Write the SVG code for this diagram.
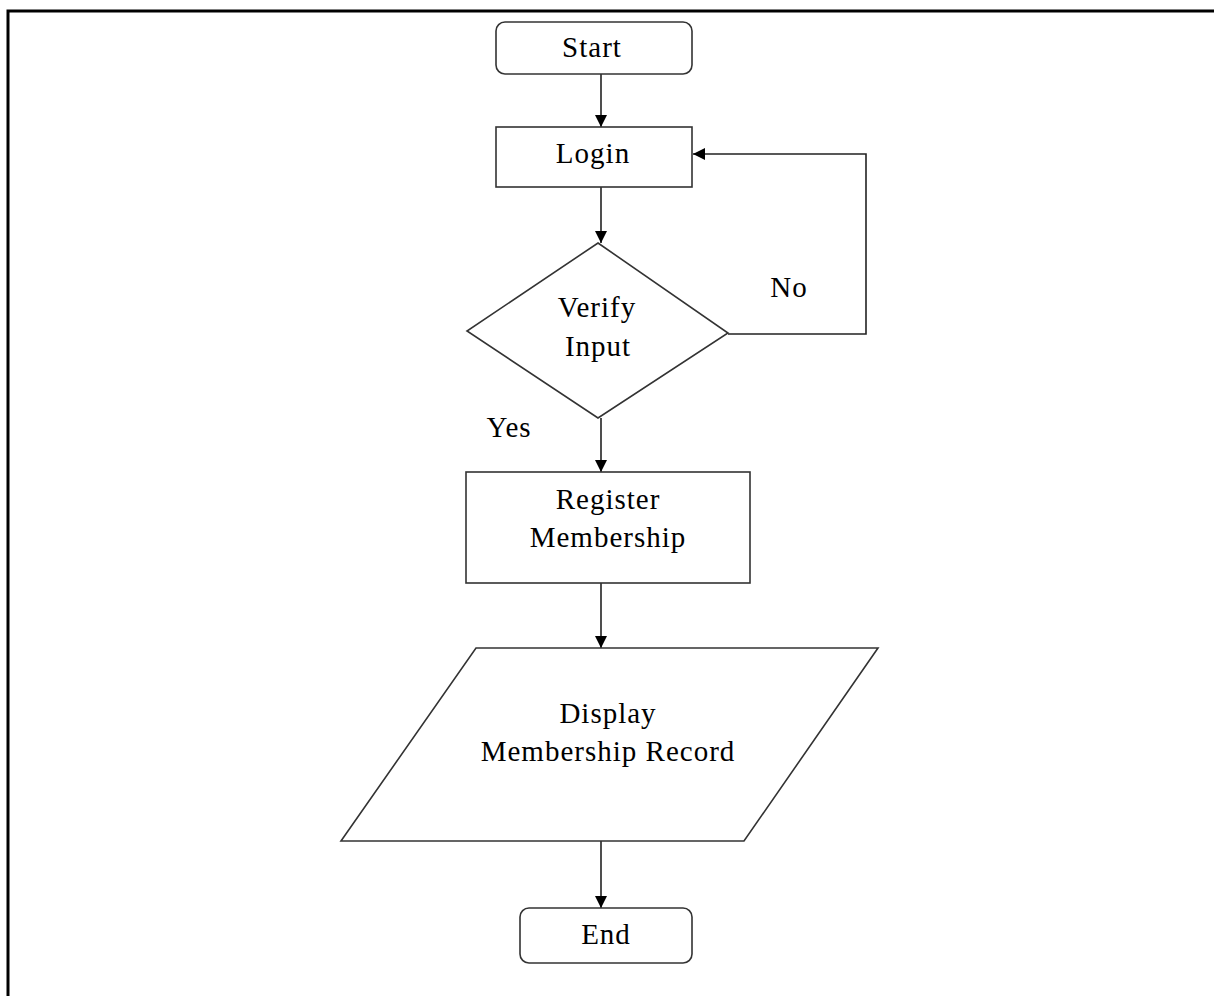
<svg xmlns="http://www.w3.org/2000/svg" width="1214" height="996" viewBox="0 0 1214 996">
<style>
.sh{fill:#fff;stroke:#333;stroke-width:1.6}
.ln{fill:none;stroke:#222;stroke-width:1.6}
.t{font-family:"Liberation Serif","Times New Roman",serif;font-size:29px;fill:#000;text-anchor:middle;letter-spacing:1px}
</style>
<defs>
<marker id="ah" markerWidth="12" markerHeight="12" viewBox="0 0 12 12" refX="12" refY="6" orient="auto" markerUnits="userSpaceOnUse">
<path d="M0,0 L12,6 L0,12 Z" fill="#000"/>
</marker>
</defs>
<rect x="0" y="0" width="1214" height="996" fill="#fff"/>
<path d="M8,996 V11 H1214" fill="none" stroke="#000" stroke-width="3"/>
<g id="connectors">
<line class="ln" x1="601" y1="74" x2="601" y2="127" marker-end="url(#ah)"/>
<line class="ln" x1="601" y1="187" x2="601" y2="243" marker-end="url(#ah)"/>
<polyline class="ln" points="728,334 866,334 866,154 693,154" marker-end="url(#ah)"/>
<line class="ln" x1="601" y1="418" x2="601" y2="472" marker-end="url(#ah)"/>
<line class="ln" x1="601" y1="583" x2="601" y2="648" marker-end="url(#ah)"/>
<line class="ln" x1="601" y1="841" x2="601" y2="908" marker-end="url(#ah)"/>
<text class="t" x="789" y="297">No</text>
<text class="t" x="509" y="437">Yes</text>
</g>
<g id="start">
<rect class="sh" x="496" y="22" width="196" height="52" rx="9"/>
<text class="t" x="592" y="57">Start</text>
</g>
<g id="login">
<rect class="sh" x="496" y="127" width="196" height="60"/>
<text class="t" x="593" y="163">Login</text>
</g>
<g id="verify">
<polygon class="sh" points="598,243 728,333 598,418 467,331"/>
<text class="t" x="597" y="317">Verify</text>
<text class="t" x="598" y="356">Input</text>
</g>
<g id="register">
<rect class="sh" x="466" y="472" width="284" height="111"/>
<text class="t" x="608" y="509">Register</text>
<text class="t" x="608" y="547">Membership</text>
</g>
<g id="display">
<polygon class="sh" points="476,648 878,648 744,841 341,841"/>
<text class="t" x="608" y="723">Display</text>
<text class="t" x="608" y="761">Membership Record</text>
</g>
<g id="end">
<rect class="sh" x="520" y="908" width="172" height="55" rx="9"/>
<text class="t" x="606" y="944">End</text>
</g>
</svg>
